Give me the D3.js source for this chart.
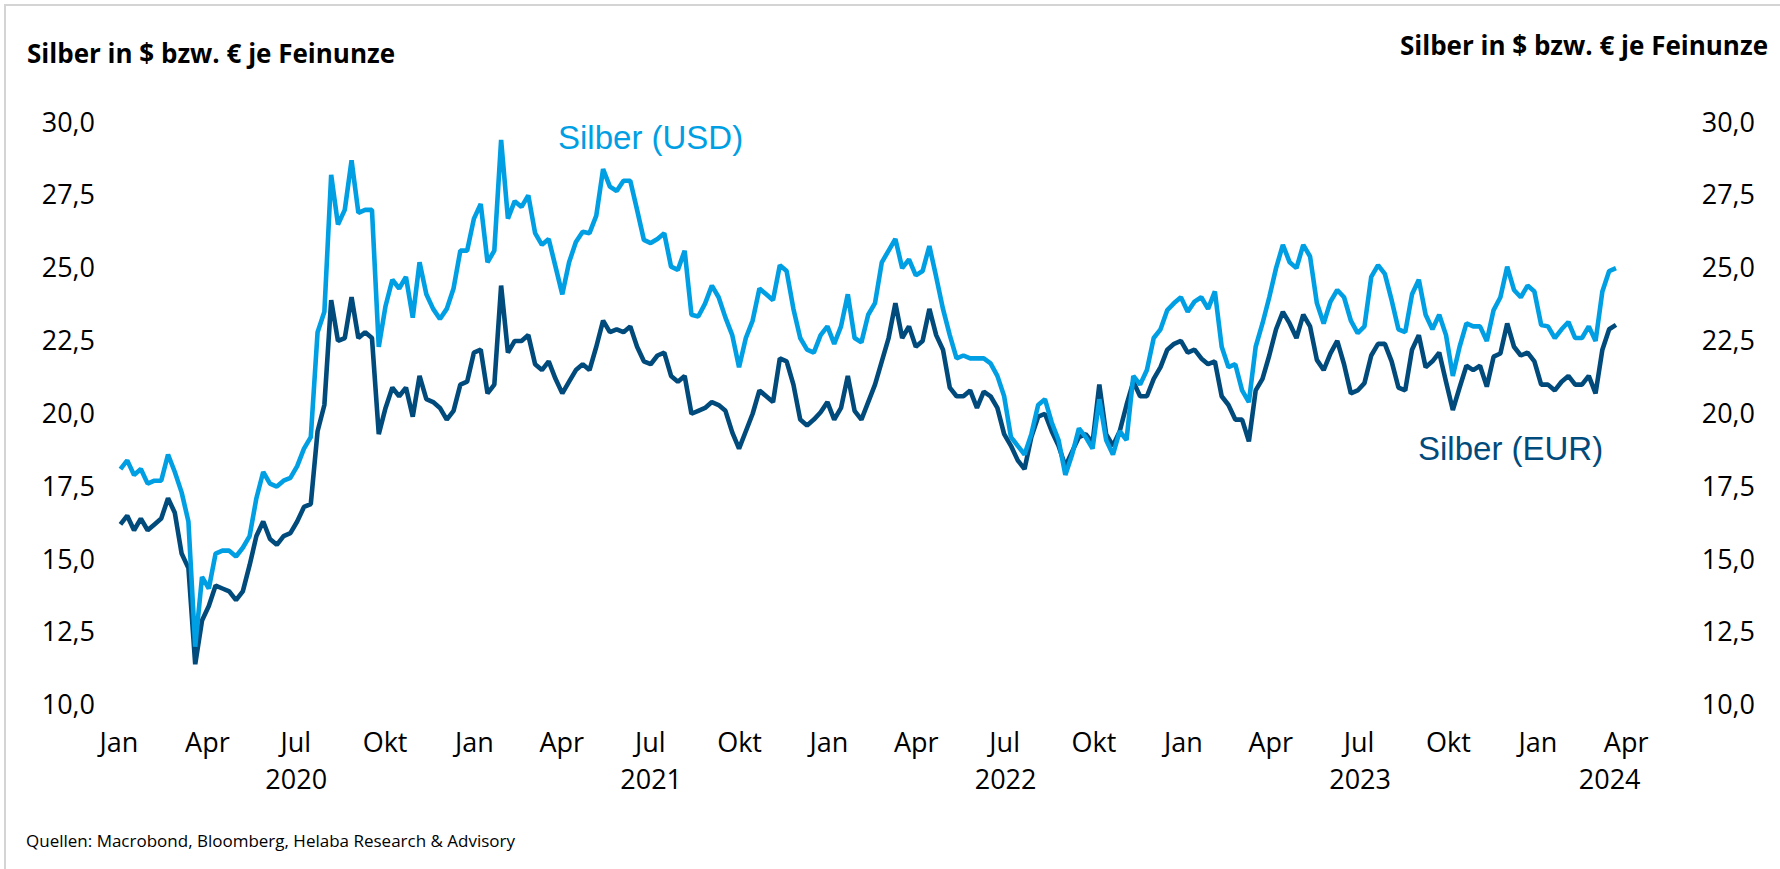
<!DOCTYPE html>
<html>
<head>
<meta charset="utf-8">
<script src="https://cdn.jsdelivr.net/npm/d3@7"></script>
<style>
body{margin:0;background:#fff;}
svg{display:block;font-family:"Open Sans",sans-serif;}
</style>
</head>
<body>
<svg id="chart" width="1780" height="869"></svg>
<script>
// weekly closes, first week ending 2020-01-03
const firstWeek = "2020-01-03"
const usd = [
  18.1, 18.4, 17.9, 18.1, 17.6, 17.7, 17.7, 18.6, 18.0, 17.3,
  16.3, 12.0, 14.4, 14.0, 15.2, 15.3, 15.3, 15.1, 15.4, 15.8,
  17.1, 18.0, 17.6, 17.5, 17.7, 17.8, 18.2, 18.8, 19.2, 22.8,
  23.5, 28.2, 26.5, 27.0, 28.7, 26.9, 27.0, 27.0, 22.3, 23.7,
  24.6, 24.3, 24.7, 23.3, 25.2, 24.1, 23.6, 23.25, 23.6, 24.3,
  25.6, 25.6, 26.7, 27.2, 25.2, 25.6, 29.4, 26.7, 27.3, 27.1,
  27.5, 26.2, 25.8, 26.0, 25.05, 24.1, 25.2, 25.9, 26.25, 26.2,
  26.8, 28.4, 27.8, 27.65, 28.0, 28.0, 27.0, 25.97, 25.86, 26.0,
  26.2, 25.05, 24.94, 25.6, 23.4, 23.34, 23.78, 24.4, 24.0, 23.3,
  22.7, 21.6, 22.6, 23.2, 24.3, 24.1, 23.9, 25.1, 24.9, 23.6,
  22.6, 22.2, 22.1, 22.7, 23.0, 22.4, 23.0, 24.1, 22.6, 22.45,
  23.4, 23.8, 25.2, 25.6, 26.0, 25.0, 25.3, 24.75, 24.9, 25.76,
  24.7, 23.6, 22.7, 21.9, 22.0, 21.9, 21.9, 21.9, 21.73, 21.3,
  20.6, 19.2, 18.9, 18.6, 19.3, 20.3, 20.5, 19.7, 19.1, 17.9,
  18.6, 19.5, 19.2, 18.8, 20.5, 19.1, 18.6, 19.4, 19.1, 21.3,
  21.0, 21.5, 22.6, 22.9, 23.56, 23.8, 24.0, 23.5, 23.85, 24.0,
  23.6, 24.2, 22.3, 21.6, 21.7, 20.8, 20.4, 22.3, 23.1, 24.0,
  25.0, 25.8, 25.2, 25.0, 25.8, 25.4, 23.8, 23.1, 23.85, 24.25,
  24.0, 23.2, 22.77, 23.0, 24.7, 25.1, 24.8, 23.9, 22.9, 22.8,
  24.1, 24.6, 23.4, 22.9, 23.4, 22.7, 21.3, 22.3, 23.1, 23.0,
  23.0, 22.5, 23.56, 24.0, 25.05, 24.25, 24.0, 24.4, 24.2, 23.05,
  23.0, 22.6, 22.9, 23.15, 22.6, 22.6, 23.0, 22.5, 24.2, 24.9, 25.0
]
const eur = [
  16.2, 16.5, 16.0, 16.4, 16.0, 16.2, 16.4, 17.1, 16.6, 15.2,
  14.7, 11.4, 12.9, 13.4, 14.1, 14.0, 13.9, 13.6, 13.9, 14.8,
  15.8, 16.3, 15.7, 15.5, 15.8, 15.9, 16.3, 16.8, 16.9, 19.4,
  20.3, 23.9, 22.5, 22.6, 24.0, 22.6, 22.8, 22.6, 19.3, 20.2,
  20.9, 20.6, 20.9, 19.9, 21.3, 20.5, 20.4, 20.2, 19.8, 20.1,
  21.0, 21.1, 22.1, 22.2, 20.7, 21.0, 24.4, 22.1, 22.5, 22.5,
  22.7, 21.7, 21.5, 21.8, 21.2, 20.7, 21.1, 21.5, 21.7, 21.5,
  22.3, 23.2, 22.8, 22.9, 22.8, 23.0, 22.3, 21.8, 21.7, 22.0,
  22.1, 21.3, 21.1, 21.3, 20.0, 20.1, 20.2, 20.4, 20.3, 20.1,
  19.36, 18.8, 19.4, 20.0, 20.8, 20.6, 20.4, 21.9, 21.8, 21.0,
  19.8, 19.6, 19.8, 20.05, 20.4, 19.8, 20.2, 21.3, 20.1, 19.8,
  20.4, 21.0, 21.8, 22.6, 23.8, 22.6, 23.0, 22.3, 22.5, 23.6,
  22.7, 22.2, 20.9, 20.6, 20.6, 20.8, 20.2, 20.76, 20.6, 20.2,
  19.3, 18.9, 18.4, 18.1, 19.2, 19.9, 20.0, 19.4, 18.9, 18.2,
  18.7, 19.2, 19.3, 19.0, 21.0, 19.3, 18.9, 19.4, 20.3, 21.1,
  20.6, 20.6, 21.2, 21.6, 22.2, 22.4, 22.5, 22.1, 22.2, 21.9,
  21.7, 21.8, 20.6, 20.3, 19.8, 19.8, 19.05, 20.8, 21.2, 22.0,
  22.9, 23.5, 23.1, 22.6, 23.4, 23.0, 21.85, 21.5, 22.07, 22.5,
  21.7, 20.7, 20.8, 21.05, 22.0, 22.4, 22.4, 21.8, 20.9, 20.8,
  22.2, 22.7, 21.6, 21.8, 22.1, 21.1, 20.13, 20.9, 21.65, 21.5,
  21.65, 20.93, 21.96, 22.07, 23.1, 22.3, 22.0, 22.1, 21.8, 21.0,
  21.0, 20.8, 21.1, 21.3, 21.0, 21.0, 21.3, 20.7, 22.2, 22.9, 23.05
]
const yTicks = [10, 12.5, 15, 17.5, 20, 22.5, 25, 27.5, 30]
const monthNames = ["Jan", "Apr", "Jul", "Okt"]
const years = [2020, 2021, 2022, 2023, 2024]
const titleText = "Silber in $ bzw. € je Feinunze"
const sourceText = "Quellen: Macrobond, Bloomberg, Helaba Research & Advisory"

const colUsd = "#009fe3", colEur = "#004b7c"
const xStart = new Date(Date.UTC(2020, 0, 1)), xEnd = new Date(Date.UTC(2024, 4, 29))

let svg = d3.select("#chart")

let x = d3.scaleUtc().domain([xStart, xEnd]).range([118.5, 1682])
let y = d3.scaleLinear().domain([10, 30]).range([705, 122.5])

let start = d3.utcParse("%Y-%m-%d")(firstWeek)
let dates = usd.map((d, i) => d3.utcDay.offset(start, 7 * i))

//frame, top and left only
svg.append("path")
    .attr("d", "M5,869V5H1780")
    .attr("fill", "none")
    .attr("stroke", "#d4d4d4")
    .attr("stroke-width", 2)

//titles
svg.append("text").attr("x", 27).attr("y", 63)
    .style("font-size", "26px").style("font-weight", 700)
    .text(titleText)
svg.append("text").attr("x", 1768).attr("y", 55)
    .attr("text-anchor", "end")
    .style("font-size", "26px").style("font-weight", 700)
    .text(titleText)

//y axes (both anchored at their right edge)
let fmt = d => d3.format(".1f")(d).replace(".", ",")
let yAxis = d3.axisLeft(y).tickValues(yTicks).tickFormat(fmt).tickSize(0).tickPadding(0)
svg.append("g").attr("transform", "translate(95,0)").call(yAxis)
svg.append("g").attr("transform", "translate(1755,0)").call(yAxis)

//x axis months
let xAxis = d3.axisBottom(x)
    .ticks(d3.utcMonth.every(3))
    .tickFormat(d => monthNames[d.getUTCMonth() / 3])
    .tickSize(0).tickPadding(0)
svg.append("g").attr("transform", "translate(0,733)").call(xAxis)

svg.selectAll(".domain").remove()
svg.selectAll(".tick text")
    .style("font-size", "27px")
    .style("font-family", "'Open Sans', sans-serif")
    .attr("fill", "#000")

//year labels centred on the visible part of each year
svg.append("g").selectAll("text")
    .data(years)
  .enter().append("text")
    .attr("x", yr => {
      let a = d3.max([xStart, new Date(Date.UTC(yr, 0, 1))])
      let b = d3.min([xEnd, new Date(Date.UTC(yr + 1, 0, 1))])
      return (x(a) + x(b)) / 2
    })
    .attr("y", 789)
    .attr("text-anchor", "middle")
    .style("font-size", "27px")
    .text(yr => yr)

//lines
let line = d3.line()
    .x((d, i) => x(dates[i]))
    .y(d => y(d))

svg.append("path")
    .datum(eur)
    .attr("d", line)
    .attr("fill", "none")
    .attr("stroke", colEur)
    .attr("stroke-width", 4.6)
    .attr("stroke-linejoin", "bevel")
svg.append("path")
    .datum(usd)
    .attr("d", line)
    .attr("fill", "none")
    .attr("stroke", colUsd)
    .attr("stroke-width", 4.6)
    .attr("stroke-linejoin", "bevel")

//series labels
svg.append("text").attr("x", 558).attr("y", 149)
    .style("font-family", "'Liberation Sans', Arial, sans-serif")
    .style("font-size", "33px")
    .attr("fill", colUsd)
    .text("Silber (USD)")
svg.append("text").attr("x", 1418).attr("y", 460)
    .style("font-family", "'Liberation Sans', Arial, sans-serif")
    .style("font-size", "33px")
    .attr("fill", colEur)
    .text("Silber (EUR)")

//source
svg.append("text").attr("x", 26).attr("y", 847)
    .style("font-size", "17px")
    .text(sourceText)
</script>
</body>
</html>
